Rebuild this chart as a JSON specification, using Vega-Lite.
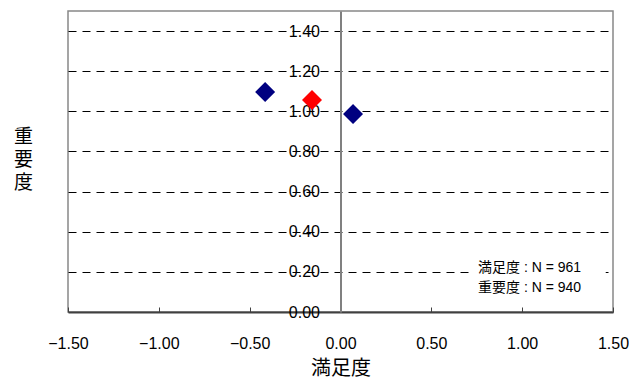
{
  "$schema": "https://vega.github.io/schema/vega-lite/v6.json",
  "width": 545,
  "height": 301,
  "autosize": {"type": "none"},
  "padding": {"left": 68, "top": 11, "right": 16, "bottom": 67},
  "background": "white",
  "config": {
    "view": {"stroke": "#888888", "strokeWidth": 1.5},
    "axis": {"labelFont": "Liberation Sans", "labelColor": "black", "titleColor": "black", "titleFontWeight": "normal"}
  },
  "datasets": {
    "points": [
      {"satisfaction": -0.415, "importance": 1.096, "group": "A"},
      {"satisfaction": -0.157, "importance": 1.056, "group": "B"},
      {"satisfaction": 0.069, "importance": 0.987, "group": "A"}
    ],
    "notes": [
      {"satisfaction": 0.757, "importance": 0.22, "label": "満足度 : N = 961"},
      {"satisfaction": 0.757, "importance": 0.12, "label": "重要度 : N = 940"}
    ]
  },
  "layer": [
    {
      "data": {"values": [{}]},
      "mark": {"type": "rect", "fill": "white", "strokeWidth": 0},
      "encoding": {
        "x": {"datum": 0.73, "type": "quantitative", "scale": {"domain": [-1.5, 1.5], "nice": false, "zero": false}},
        "x2": {"datum": 1.46},
        "y": {"datum": 0.08, "type": "quantitative", "scale": {"domain": [0, 1.5], "nice": false, "zero": false},
          "axis": {
            "orient": "left", "zindex": 0,
            "values": [0.2, 0.4, 0.6, 0.8, 1.0, 1.2, 1.4],
            "grid": true, "gridDash": [8, 6], "gridColor": "black", "gridWidth": 1, "gridOpacity": 1,
            "labels": false, "ticks": false, "domain": false,
            "title": ["重", "要", "度"],
            "titleAngle": 0, "titleX": -45, "titleY": 125, "titleAlign": "center", "titleBaseline": "middle",
            "titleFont": "Noto Sans CJK JP", "titleFontSize": 19, "titleLineHeight": 23
          }
        },
        "y2": {"datum": 0.28}
      }
    },
    {
      "data": {"name": "notes"},
      "mark": {"type": "text", "align": "left", "baseline": "middle", "font": "Liberation Sans, Noto Sans CJK JP", "fontSize": 14, "color": "black"},
      "encoding": {
        "x": {"field": "satisfaction", "type": "quantitative"},
        "y": {"field": "importance", "type": "quantitative", "axis": null},
        "text": {"field": "label"}
      }
    },
    {
      "data": {"name": "points"},
      "mark": {"type": "point", "shape": "diamond", "filled": true, "size": 400, "opacity": 1, "strokeWidth": 0},
      "encoding": {
        "x": {"field": "satisfaction", "type": "quantitative",
          "axis": {
            "orient": "bottom",
            "values": [-1.5, -1.0, -0.5, 0, 0.5, 1.0, 1.5],
            "format": ".2f", "labelFontSize": 16, "labelPadding": 28, "labelFlush": false,
            "tickSize": -5, "tickColor": "#404040", "tickWidth": 1,
            "domainColor": "#404040", "domainWidth": 2,
            "grid": false,
            "title": "満足度", "titleFont": "Noto Sans CJK JP", "titleFontSize": 20, "titlePadding": 7
          }
        },
        "y": {"field": "importance", "type": "quantitative",
          "axis": {
            "orient": "left", "offset": -272.5,
            "values": [0, 0.2, 0.4, 0.6, 0.8, 1.0, 1.2, 1.4],
            "format": ".2f", "labelFontSize": 16, "labelPadding": 21, "labelFlush": false,
            "ticks": false, "grid": false,
            "domain": true, "domainColor": "#808080", "domainWidth": 2,
            "title": null
          }
        },
        "color": {"field": "group", "type": "nominal", "scale": {"domain": ["A", "B"], "range": ["#000080", "#FF0000"]}, "legend": null}
      }
    }
  ],
  "resolve": {"axis": {"y": "independent"}}
}
